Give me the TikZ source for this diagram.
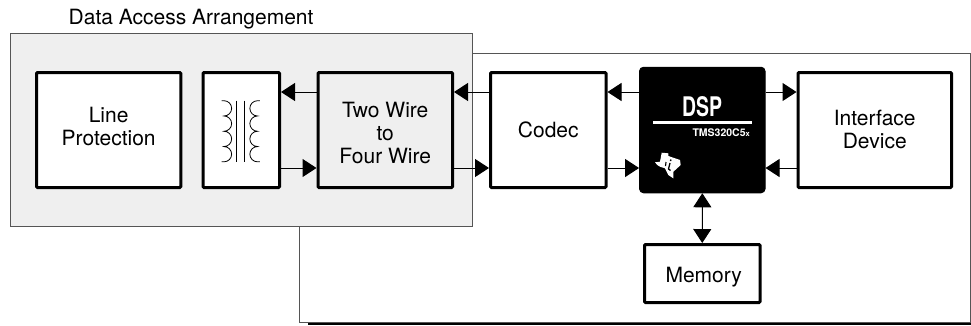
\documentclass[tikz,border=0pt]{standalone}
\usepackage{fontspec}
\setmainfont{TeX Gyre Heros}
\usetikzlibrary{arrows.meta}
\definecolor{panel}{HTML}{EFEFEF}
\definecolor{rim}{HTML}{555555}
\tikzset{
  every node/.style={font=\fontsize{21}{23}\selectfont, align=center, inner sep=0pt},
  block/.style={draw=black, line width=3pt, rounded corners=1pt, fill=white, minimum width=#1, anchor=center},
  tallblock/.style={block=#1, minimum height=115pt},
  link/.style={line width=1pt, -{Triangle[length=14pt,width=18pt]}},
  biglink/.style={line width=1pt, {Triangle[length=14pt,width=18pt]}-{Triangle[length=14pt,width=18pt]}},
  rimbox/.style={draw=rim, line width=1pt},
  coil/.style={line width=0.8pt, black},
}
\begin{document}
\begin{tikzpicture}[x=1pt,y=-1pt]
\useasboundingbox (0,0) rectangle (971,325);
\fill[white] (0,0) rectangle (971,325);
% outer white frame with heavy lower edge
\draw[rimbox, fill=white] (299.5,53.5) rectangle (970.5,322.5);
\fill[black] (308,323) rectangle (971,325);
% grey DAA panel
\draw[rimbox, fill=panel] (10.5,33.5) rectangle (472,226);
\node[anchor=base west] (daa) at (68.5,24) {Data Access Arrangement};
% blocks
\node[tallblock=144.3pt] (line) at (108.65,130) {};
\node (linetext) at (108.65,126) {Line\\Protection};
\node[tallblock=76.5pt] (xfmr) at (241.25,130) {};
\node[tallblock=134.5pt, fill=panel] (two) at (385.25,130) {};
\node (twotext) at (385.25,133) {Two Wire\\to\\Four Wire};
\node[tallblock=115.5pt] (codec) at (548.25,130) {};
\node (codectext) at (548.25,129.5) {Codec};
\node[draw=black, fill=black, line width=1pt, rounded corners=4pt, minimum width=125.5pt, minimum height=125.5pt] (dsp) at (702.3,130) {};
\node[tallblock=153.5pt] (iface) at (874.75,130) {};
\node (ifacetext) at (874.75,129.5) {Interface\\Device};
\node[block=115.5pt, minimum height=58pt] (mem) at (702.25,273.5) {};
\node (memtext) at (703.7,277) {Memory};
% level coordinates for the connectors
\coordinate (upper) at (0,92);
\coordinate (lower) at (0,168);
% connectors
\draw[link] (two.west |- upper) -- (xfmr.east |- upper);
\draw[link] (xfmr.east |- lower) -- (two.west |- lower);
\draw[link] (codec.west |- upper) -- (two.east |- upper);
\draw[link] (two.east |- lower) -- (codec.west |- lower);
\draw[link] (dsp.west |- upper) -- (codec.east |- upper);
\draw[link] (codec.east |- lower) -- (dsp.west |- lower);
\draw[link] (dsp.east |- upper) -- (iface.west |- upper);
\draw[link] (iface.west |- lower) -- (dsp.east |- lower);
\draw[biglink] (dsp.south) -- (mem.north);
% transformer
\draw[coil] (221.7,100.7) -- (224,100.7)
  arc[start angle=-90,end angle=90,radius=7.64]
  arc[start angle=-90,end angle=90,radius=7.64]
  arc[start angle=-90,end angle=90,radius=7.64]
  arc[start angle=-90,end angle=90,radius=7.64] -- (221.7,161.8);
\draw[coil] (259.8,100.7) -- (257.5,100.7)
  arc[start angle=-90,end angle=-270,radius=7.64]
  arc[start angle=-90,end angle=-270,radius=7.64]
  arc[start angle=-90,end angle=-270,radius=7.64]
  arc[start angle=-90,end angle=-270,radius=7.64] -- (259.8,161.8);
\draw[line width=1pt] (236.7,100.7) -- (236.7,162);
\draw[line width=1pt] (244.3,100.7) -- (244.3,162);
% DSP face
\node[text=white, draw=none, font=\fontsize{27}{27}\bfseries] (dsptext) at (702,107) {\scalebox{0.72}[1]{DSP}};
\draw[white, line width=3pt] (653,122.3) -- (752,122.3);
\node[text=white, font=\fontsize{10.5}{10.5}\bfseries, anchor=east] (tms) at (750,132.5) {TMS320C5\fontsize{7.5}{7.5}\selectfont x};
% logo
\fill[white] (661.7,152.7) -- (668.3,153.3) -- (668.3,156) -- (680,160) -- (680.7,165) -- (676,169.3) -- (673.3,171.7) -- (673.3,178.3) -- (668.3,175) -- (665,168.3) -- (660,166.7) -- (657.3,165) -- (655,162.3) -- (660,161.7) -- cycle;
\draw[black, line width=1.3pt] (671,159.5) -- (670.5,161);
\draw[black, line width=1.3pt] (670,163) -- (668.5,169) -- (670.5,170.5);
\draw[black, line width=1.1pt] (666,162) -- (665.5,166);
\end{tikzpicture}
\end{document}
